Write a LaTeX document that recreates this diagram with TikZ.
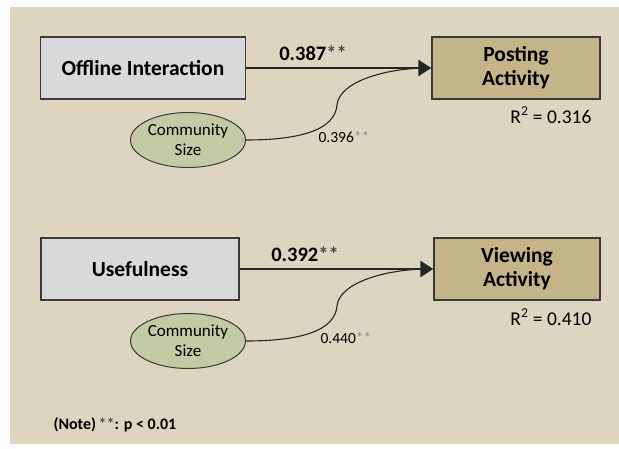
\documentclass[tikz,border=0pt]{standalone}
\usepackage{fontspec}
\setmainfont{Carlito}
\usepackage{xcolor}
\usetikzlibrary{shapes.geometric,arrows.meta}
\definecolor{bgbeige}{HTML}{DDD5BF}
\definecolor{boxgray}{HTML}{D9D9DB}
\definecolor{boxtan}{HTML}{C4B48A}
\definecolor{sage}{HTML}{C4CAA4}
\definecolor{edge}{HTML}{3A3A3A}
\definecolor{stargray}{HTML}{8A8A8A}
\definecolor{stardark}{HTML}{4A4A4A}
\newcommand{\stars}{\textcolor{stargray}{**}}
\newcommand{\boldstars}{\textcolor{stardark}{**}}

\begin{document}
\begin{tikzpicture}[x=1pt, y=-1pt,
    var/.style={draw=edge, line width=1.3pt, align=center, inner sep=0pt,
        minimum height=62pt, font=\fontsize{21.5}{24}\selectfont\bfseries},
    moder/.style={ellipse, draw=edge, line width=1pt, fill=sage, align=center,
        inner sep=0pt, minimum width=115pt, minimum height=55pt,
        font=\fontsize{17}{20}\selectfont},
    effect/.style={line width=2.6pt, draw=black!85, -{Triangle[length=13pt,width=16pt]}},
    modline/.style={line width=1.1pt, draw=black!85},
    coef/.style={font=\fontsize{20.5}{22}\selectfont\bfseries},
    small/.style={font=\fontsize{15.5}{17}\selectfont},
    rsq/.style={anchor=east, font=\fontsize{19.5}{22}\selectfont}]
        \useasboundingbox (0,0) rectangle (619,448);
        \fill[bgbeige] (10,7) rectangle (619,444);

        % first model
        \node[var, fill=boxgray, minimum width=205pt] (offline) at (143,68) {Offline Interaction};
        \node[var, fill=boxtan, minimum width=168pt] (posting) at (516,68) {Posting\\Activity};
        \node[moder] (commA) at (188,140) {Community\\Size};
        \coordinate (joinA) at (428,68);

        \draw[effect] (offline) -- (posting);
        \draw[modline] (commA.east) .. controls (300,140) and (335,130) .. (337,105)
            .. controls (339,82) and (385,68) .. (joinA);

        \node[coef] (coefA) at (313,53) {0.387\boldstars};
        \node[small] (modA) at (344,137) {0.396\stars};
        \node[rsq] (rsqA) at (595,115) {R\textsuperscript{2} = 0.316};

        % second model
        \node[var, fill=boxgray, minimum width=198pt] (useful) at (140,269) {Usefulness};
        \node[var, fill=boxtan, minimum width=166pt] (viewing) at (517,269) {Viewing\\Activity};
        \node[moder] (commB) at (188,341) {Community\\Size};
        \coordinate (joinB) at (429,269);

        \draw[effect] (useful) -- (viewing);
        \draw[modline] (commB.east) .. controls (300,341) and (335,331) .. (337,306)
            .. controls (339,283) and (385,269) .. (joinB);

        \node[coef] (coefB) at (305,254) {0.392\boldstars};
        \node[small] (modB) at (346,338) {0.440\stars};
        \node[rsq] (rsqB) at (595,317) {R\textsuperscript{2} = 0.410};

        % footnote
        \node[anchor=west, font=\fontsize{16}{18}\selectfont\bfseries] (note) at (50,425) {(Note)\,\boldstars: p < 0.01};
\end{tikzpicture}
\end{document}
